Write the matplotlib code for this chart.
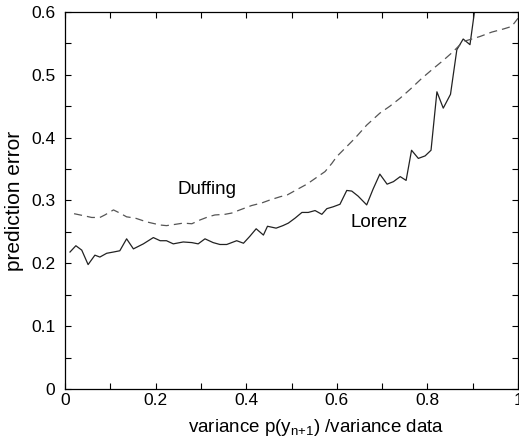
import matplotlib
matplotlib.use("Agg")
import matplotlib.pyplot as plt
from matplotlib.ticker import MultipleLocator

plt.rcParams['font.family'] = ['Liberation Sans', 'DejaVu Sans']

# Lorenz prediction error vs. relative variance
lorenz_x = [0.011, 0.024, 0.037, 0.051, 0.066, 0.077, 0.092, 0.107, 0.121, 0.136,
            0.151, 0.173, 0.195, 0.210, 0.224, 0.239, 0.261, 0.280, 0.294, 0.309,
            0.327, 0.342, 0.357, 0.379, 0.394, 0.408, 0.422, 0.438, 0.447, 0.466,
            0.481, 0.493, 0.508, 0.523, 0.537, 0.552, 0.567, 0.578, 0.592, 0.607,
            0.622, 0.633, 0.647, 0.666, 0.680, 0.695, 0.711, 0.725, 0.740, 0.753,
            0.765, 0.780, 0.795, 0.808, 0.821, 0.835, 0.851, 0.865, 0.879, 0.894,
            0.901, 0.915]
lorenz_y = [0.218, 0.228, 0.221, 0.198, 0.213, 0.210, 0.216, 0.218, 0.220, 0.239,
            0.223, 0.231, 0.241, 0.236, 0.236, 0.231, 0.234, 0.233, 0.231, 0.239,
            0.233, 0.230, 0.230, 0.236, 0.232, 0.243, 0.255, 0.245, 0.259, 0.256,
            0.260, 0.264, 0.272, 0.281, 0.281, 0.284, 0.278, 0.287, 0.290, 0.294,
            0.316, 0.315, 0.307, 0.293, 0.318, 0.342, 0.326, 0.330, 0.338, 0.332,
            0.380, 0.367, 0.371, 0.380, 0.473, 0.447, 0.469, 0.540, 0.557, 0.548,
            0.585, 0.660]

# Duffing prediction error vs. relative variance
duffing_x = [0.020, 0.040, 0.059, 0.077, 0.088, 0.107, 0.121, 0.136, 0.155, 0.180,
             0.210, 0.224, 0.243, 0.261, 0.280, 0.298, 0.316, 0.331, 0.353, 0.368,
             0.386, 0.412, 0.434, 0.453, 0.475, 0.491, 0.511, 0.534, 0.552, 0.574,
             0.589, 0.600, 0.618, 0.640, 0.666, 0.695, 0.717, 0.740, 0.762, 0.787,
             0.813, 0.835, 0.857, 0.879, 0.898, 0.916, 0.942, 0.968, 0.986, 1.000]
duffing_y = [0.279, 0.276, 0.273, 0.273, 0.277, 0.285, 0.280, 0.274, 0.272, 0.266,
             0.261, 0.260, 0.262, 0.264, 0.263, 0.269, 0.274, 0.277, 0.278, 0.280,
             0.285, 0.292, 0.296, 0.301, 0.306, 0.309, 0.317, 0.326, 0.335, 0.346,
             0.359, 0.370, 0.383, 0.399, 0.420, 0.439, 0.450, 0.463, 0.477, 0.494,
             0.510, 0.523, 0.537, 0.553, 0.557, 0.561, 0.568, 0.573, 0.577, 0.590]

fig = plt.figure(figsize=(5.19, 4.41), dpi=100)
ax = fig.add_axes([65 / 519, 52 / 441, 453 / 519, 377 / 441])

ax.plot(lorenz_x, lorenz_y, color='#222222', lw=0.9)
ax.plot(duffing_x, duffing_y, color='#555555', lw=0.9, linestyle=(0, (6.5, 4)))

ax.text(0.313, 0.317, 'Duffing', fontsize=13.5, ha='center', va='center')
ax.text(0.693, 0.265, 'Lorenz', fontsize=13.5, ha='center', va='center')

ax.set_xlim(0, 1)
ax.set_ylim(0, 0.6)
ax.xaxis.set_major_locator(MultipleLocator(0.2))
ax.xaxis.set_minor_locator(MultipleLocator(0.1))
ax.yaxis.set_major_locator(MultipleLocator(0.1))
ax.yaxis.set_minor_locator(MultipleLocator(0.05))
ax.xaxis.set_major_formatter(lambda v, p: '0' if abs(v) < 1e-9 else ('1' if abs(v - 1) < 1e-9 else f'{v:.1f}'))
ax.yaxis.set_major_formatter(lambda v, p: '0' if abs(v) < 1e-9 else f'{v:.1f}')
ax.tick_params(which='both', direction='in', top=True, right=True, length=4, width=0.8,
               labelsize=12.5)
ax.tick_params(axis='x', pad=3)
ax.tick_params(axis='y', pad=7)

ax.set_xlabel('variance p(y$_{\\mathregular{n{+}1}}$) /variance data', fontsize=13.5)
ax.xaxis.set_label_coords(0.554, -0.075)
ax.set_ylabel('prediction error', fontsize=15, labelpad=5)
for s in ax.spines.values():
    s.set_linewidth(0.9)

fig.savefig('out.png', dpi=100)
